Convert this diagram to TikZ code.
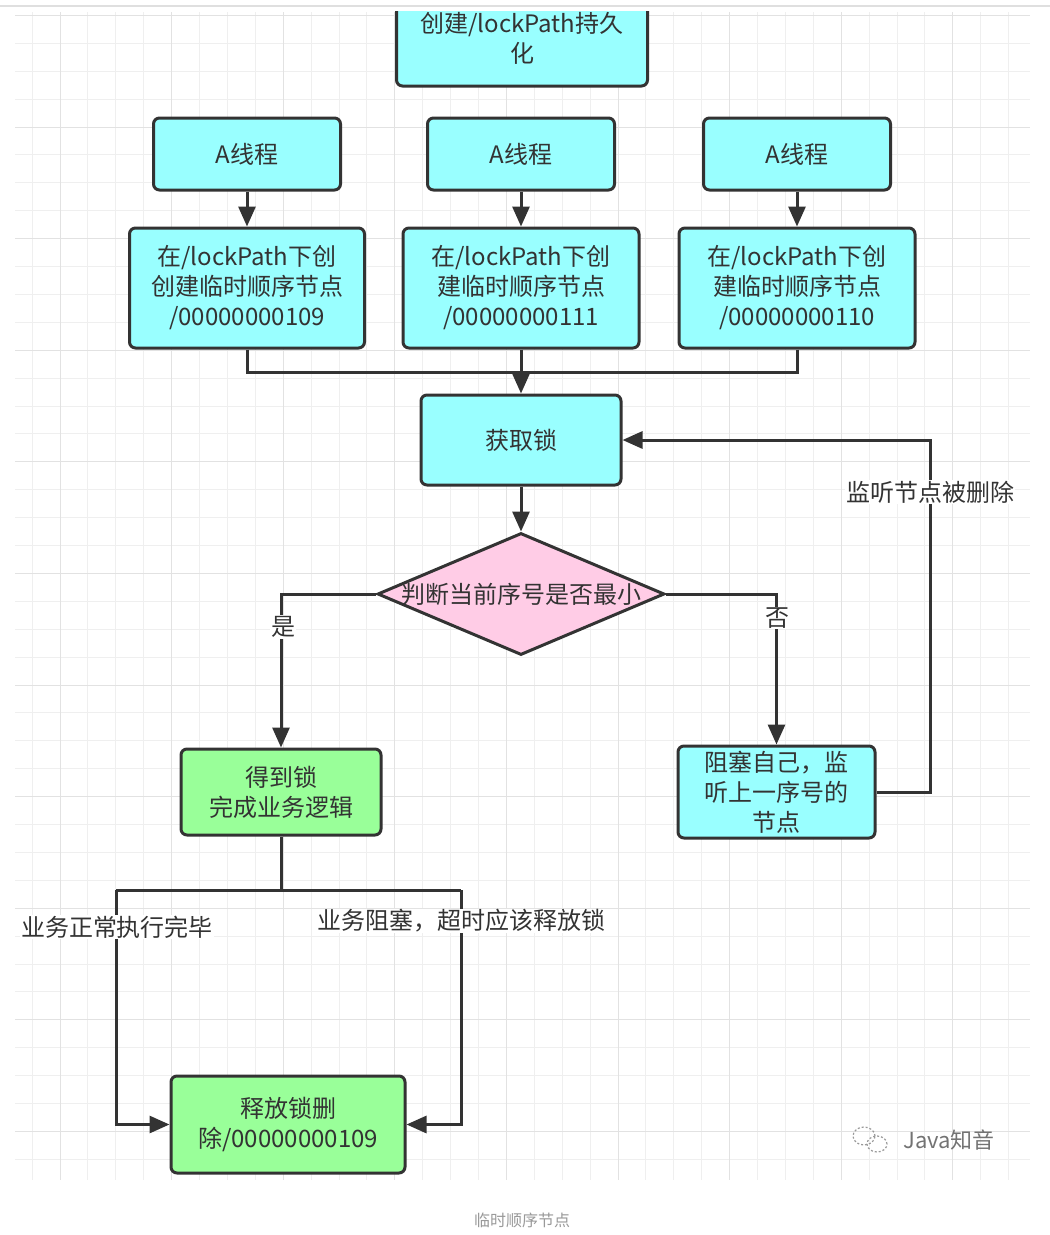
\documentclass[tikz,border=0pt]{standalone}
\usepackage{fontspec}
\setmainfont{Noto Sans CJK SC}
\usetikzlibrary{shapes.geometric,arrows.meta}
\definecolor{cyanbox}{HTML}{99FFFF}
\definecolor{greenbox}{HTML}{99FF99}
\definecolor{pinkbox}{HTML}{FFCCE6}
\definecolor{edge}{HTML}{333333}
\definecolor{txt}{HTML}{333333}
\definecolor{gridminor}{HTML}{EFEFEF}
\definecolor{gridmajor}{HTML}{E2E2E2}
\tikzset{
  box/.style={draw=edge, line width=3pt, rounded corners=6pt, align=center,
    font=\fontsize{24pt}{30pt}\selectfont, text=txt, inner sep=0pt},
  cbox/.style={box, fill=cyanbox},
  gbox/.style={box, fill=greenbox},
  conn/.style={draw=edge, line width=3pt},
  arr/.style={conn, -{Triangle[length=20pt,width=17pt]}},
  lbl/.style={fill=white, text=txt, font=\fontsize{24pt}{30pt}\selectfont, inner sep=1pt},
}
\begin{document}
\begin{tikzpicture}[x=1pt,y=-1pt]
\useasboundingbox (0,0) rectangle (1050,1235);
\fill[white] (0,0) rectangle (1050,1235);
% grid
\begin{scope}
\clip (15,12) rectangle (1030,1180);
\foreach \i in {-2,...,37} {
  \pgfmathsetmacro\gx{60+27.9*\i}
  \draw[gridminor, line width=1pt] (\gx,12) -- (\gx,1180);
}
\foreach \i in {-5,...,38} {
  \pgfmathsetmacro\gy{127+27.9*\i}
  \draw[gridminor, line width=1pt] (15,\gy) -- (1030,\gy);
}
\foreach \i in {-1,...,9} {
  \pgfmathsetmacro\gx{60+111.6*\i}
  \draw[gridmajor, line width=1pt] (\gx,12) -- (\gx,1180);
}
\foreach \i in {-2,...,10} {
  \pgfmathsetmacro\gy{127+111.6*\i}
  \draw[gridmajor, line width=1pt] (15,\gy) -- (1030,\gy);
}
\end{scope}

% nodes
\node[cbox, minimum width=251pt, minimum height=96pt] (top) at (522,38) {创建/lockPath持久\\化};
\node[cbox, minimum width=187pt, minimum height=72pt] (a1) at (247,154) {A线程};
\node[cbox, minimum width=187pt, minimum height=72pt] (a2) at (521,154) {A线程};
\node[cbox, minimum width=187pt, minimum height=72pt] (a3) at (797,154) {A线程};
\node[cbox, minimum width=235pt, minimum height=120pt] (c1) at (247,288) {在/lockPath下创\\创建临时顺序节点\\/00000000109};
\node[cbox, minimum width=236pt, minimum height=120pt] (c2) at (521,288) {在/lockPath下创\\建临时顺序节点\\/00000000111};
\node[cbox, minimum width=236pt, minimum height=120pt] (c3) at (797,288) {在/lockPath下创\\建临时顺序节点\\/00000000110};
\node[cbox, minimum width=200pt, minimum height=90pt] (get) at (521,440) {获取锁};
\node[diamond, draw=edge, line width=3pt, fill=pinkbox, minimum width=287pt, minimum height=122pt, inner sep=0pt,
  label={[text=txt, font=\fontsize{24pt}{30pt}\selectfont]center:判断当前序号是否最小}] (dia) at (521,594) {};
\node[gbox, minimum width=200pt, minimum height=86pt] (ok) at (281,792) {得到锁\\完成业务逻辑};
\node[cbox, minimum width=197pt, minimum height=92pt] (block) at (776.5,792) {阻塞自己，监\\听上一序号的\\节点};
\node[gbox, minimum width=234pt, minimum height=97pt] (rel) at (288,1124.5) {释放锁删\\除/00000000109};

% connectors
\draw[arr] (a1) -- (c1);
\draw[arr] (a2) -- (c2);
\draw[arr] (a3) -- (c3);
\coordinate (j) at (521,372);
\draw[conn] (c1.south) |- (j);
\draw[conn] (c3.south) |- (j);
\draw[arr] (c2.south) -- (get.north);
\draw[arr] (get) -- (dia);
\draw[arr] (dia.west) -| (ok.north);
\draw[arr] (dia.east) -| (block.north);
\coordinate (loopc) at (930,792);
\draw[arr] (block.east) -- (loopc) |- (get.east);
\coordinate (split) at (281,890);
\coordinate (sl) at (116,890);
\coordinate (sr) at (461,890);
\draw[conn] (ok.south) -- (split);
\draw[conn] (sl) -- (sr);
\draw[arr] (sl) |- (rel.west);
\draw[arr] (sr) |- (rel.east);

% labels
\node[lbl] (lyes) at (283,627) {是};
\node[lbl] (lno) at (777,618) {否};
\node[lbl] (lwatch) at (930,492) {监听节点被删除};
\node[lbl] (lnormal) at (117,927) {业务正常执行完毕};
\node[lbl] (lblock) at (461,921) {业务阻塞，超时应该释放锁};

% top mask and separator
\fill[white] (0,0) rectangle (1050,11);
\draw[gray!25, line width=2pt] (0,6) -- (1050,6);

% watermark
\draw[gray!80, line width=1.2pt, dash pattern=on 2pt off 2pt] (864,1136) ellipse [x radius=11pt, y radius=9pt];
\draw[gray!80, line width=1.2pt, dash pattern=on 2pt off 2pt] (877,1144) ellipse [x radius=10pt, y radius=8pt];
\node[text=gray!90!black, font=\fontsize{22pt}{26pt}\selectfont, inner sep=0pt] (wm) at (949,1140) {Java知音};

% caption
\node[text=gray!80, font=\fontsize{16pt}{20pt}\selectfont, inner sep=0pt] (cap) at (522,1220) {临时顺序节点};
\end{tikzpicture}
\end{document}
